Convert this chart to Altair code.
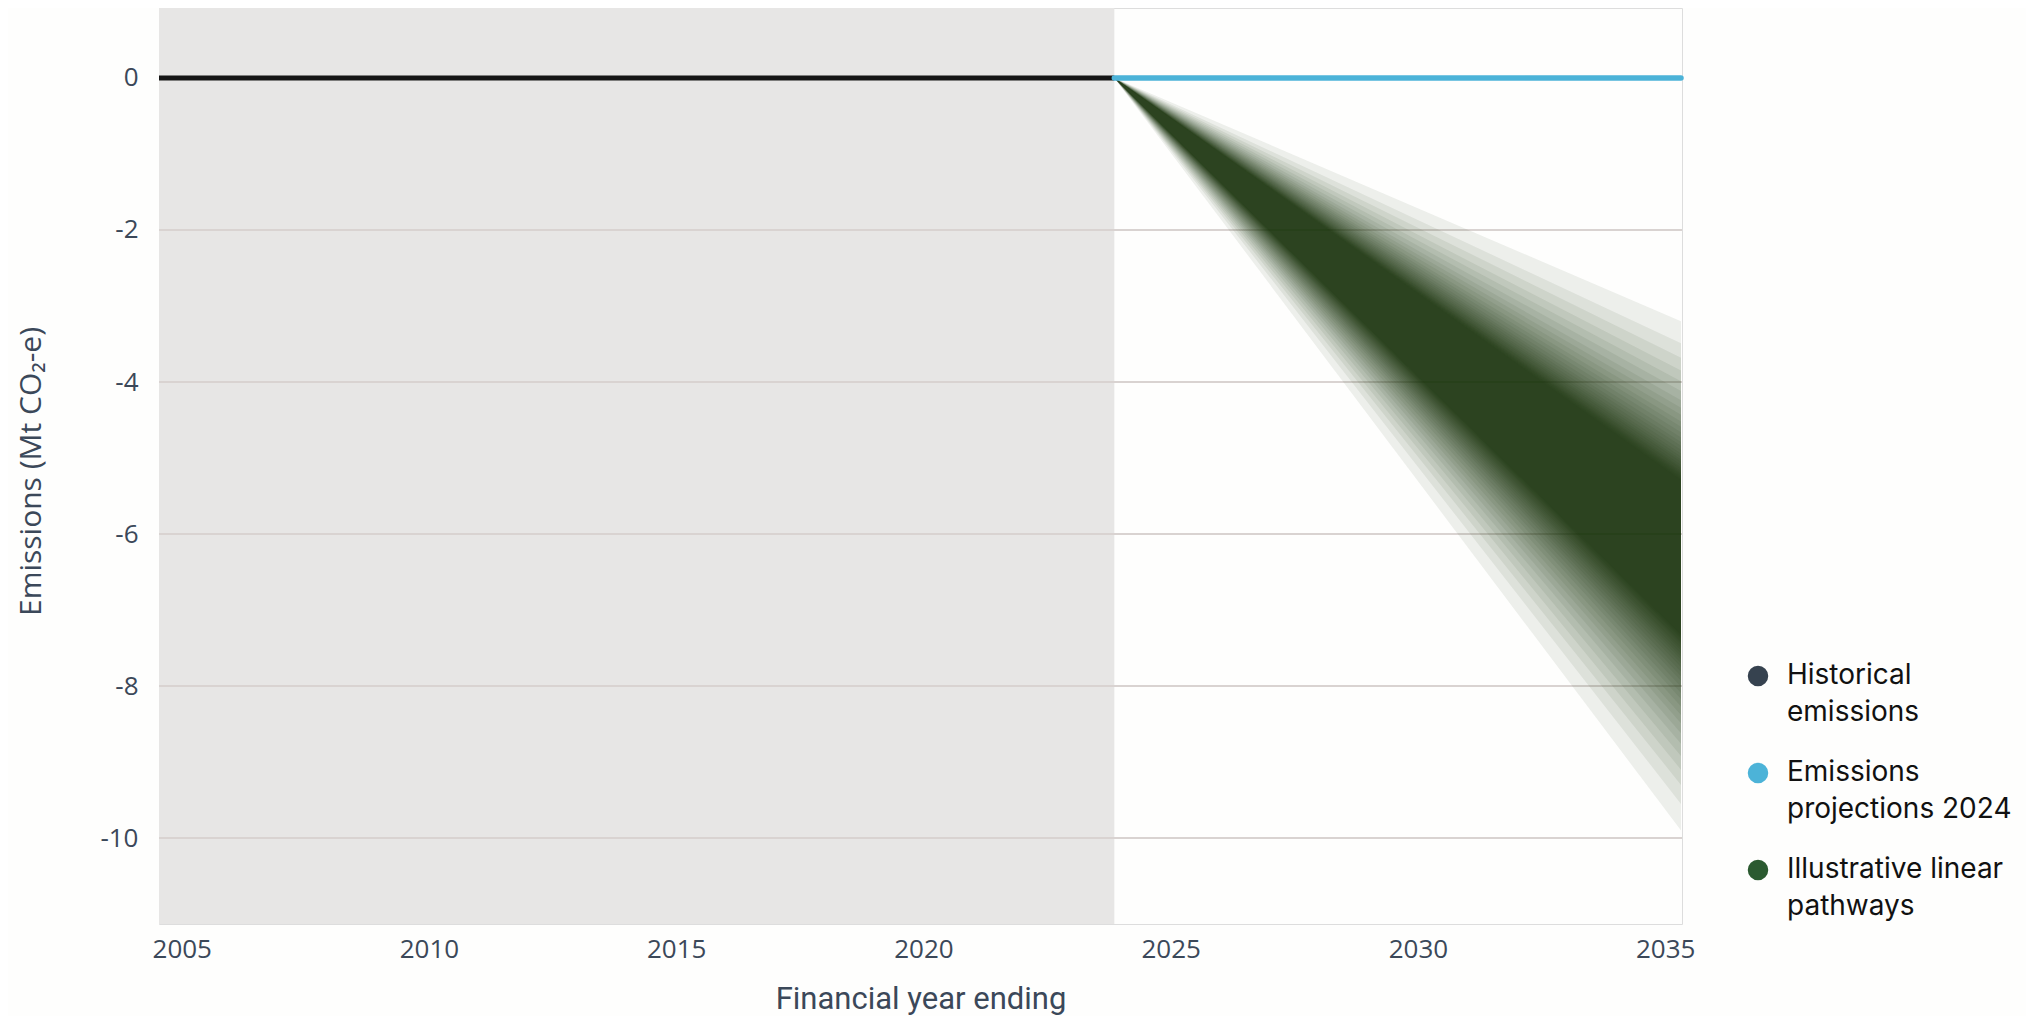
import altair as alt
import pandas as pd

# ---------------- data ----------------
hist_x = [2004.54, 2023.86]
hist_y = [0.0, 0.0]

proj_x = [2023.86, 2035.32]
proj_y = [0.0, 0.0]

# shaded historical period
shade_x = [2004.54]
shade_x2 = [2023.86]

# illustrative linear pathways: common start point and end-point envelopes (upper / lower)
path_start_x = 2023.86
path_start_y = 0.0
path_end_x = 2035.32
path_upper = [-3.20, -3.49, -3.68, -3.85, -3.99, -4.12, -4.24, -4.34, -4.43, -4.52,
              -4.59, -4.66, -4.73, -4.79, -4.84, -4.89, -4.94, -4.98, -5.02, -5.05,
              -5.09, -5.12, -5.14, -5.17, -5.19, -5.21, -5.23, -5.25, -5.27, -5.29]
path_lower = [-9.90, -9.55, -9.30, -9.10, -8.92, -8.76, -8.62, -8.49, -8.38, -8.27,
              -8.17, -8.09, -8.01, -7.93, -7.87, -7.81, -7.75, -7.70, -7.65, -7.61,
              -7.57, -7.53, -7.50, -7.46, -7.43, -7.41, -7.38, -7.36, -7.34, -7.32]

x_ticks = [2005, 2010, 2015, 2020, 2025, 2030, 2035]
y_ticks = [0, -2, -4, -6, -8, -10]
y_grid = [-2, -4, -6, -8, -10]
x_domain = [2004.54, 2035.34]
y_domain = [-11.13, 0.92]

series = ["Historical emissions", "Emissions projections 2024", "Illustrative linear pathways"]
series_line1 = ["Historical", "Emissions", "Illustrative linear"]
series_line2 = ["emissions", "projections 2024", "pathways"]
series_colors = ["#36424f", "#4cb3d8", "#2b5a30"]

# ---------------- tables ----------------
hist_df = pd.DataFrame({"x": hist_x, "y": hist_y})
proj_df = pd.DataFrame({"x": proj_x, "y": proj_y})
shade_df = pd.DataFrame({"x": shade_x, "x2": shade_x2})
grid_df = pd.DataFrame({"y": y_grid})
rows = []
for i, (u, l) in enumerate(zip(path_upper, path_lower)):
    rows.append({"band": i, "x": path_start_x, "y": path_start_y, "y2": path_start_y})
    rows.append({"band": i, "x": path_end_x, "y": u, "y2": l})
fan_df = pd.DataFrame(rows)
legend_df = pd.DataFrame({"series": series})

W, H = 1523, 916

xscale = alt.Scale(domain=x_domain, nice=False, zero=False)
yscale = alt.Scale(domain=y_domain, nice=False, zero=False)

label_color = "#3b4859"
xaxis = alt.Axis(values=x_ticks, format="d", title="Financial year ending", grid=False,
                 domain=False, ticks=False, labelFont="Open Sans", labelFontSize=26,
                 labelColor=label_color, labelPadding=12, titleFont="Roboto", titleFontSize=31,
                 titleFontWeight="normal", titleColor=label_color, titleY=84,
                 titleBaseline="alphabetic")
yaxis = alt.Axis(values=y_ticks, labelExpr="'' + datum.value", title="Emissions (Mt CO₂-e)",
                 grid=False, domain=False, ticks=False, labelFont="Open Sans", labelFontSize=26,
                 labelColor=label_color, labelPadding=21, titleFont="Open Sans", titleFontSize=30,
                 titleFontWeight="normal", titleColor=label_color, titleX=-113, titleY=463,
                 titleAngle=-90, titleBaseline="bottom", titleAlign="center")

shade = alt.Chart(shade_df).mark_rect(color="#e7e6e5").encode(
    x=alt.X("x:Q", scale=xscale, axis=xaxis),
    x2="x2:Q",
    y=alt.value(0),
    y2=alt.value(H),
)

grid = alt.Chart(grid_df).mark_rule(color="#d9d3d1", strokeWidth=2).encode(
    y=alt.Y("y:Q", scale=yscale, axis=yaxis),
    x=alt.value(0),
    x2=alt.value(W),
)

fan = alt.Chart(fan_df).mark_area(color="#1a380f", opacity=0.075, strokeWidth=0).encode(
    x=alt.X("x:Q", scale=xscale),
    y=alt.Y("y:Q", scale=yscale),
    y2="y2:Q",
    detail="band:N",
)

hist = alt.Chart(hist_df).mark_line(color="#151515", strokeWidth=5).encode(
    x=alt.X("x:Q", scale=xscale),
    y=alt.Y("y:Q", scale=yscale),
)

proj = alt.Chart(proj_df).mark_line(color="#4cb3d8", strokeWidth=5.5, strokeCap="round").encode(
    x=alt.X("x:Q", scale=xscale),
    y=alt.Y("y:Q", scale=yscale),
)

label_map = "{" + ", ".join(
    f"'{s}': ['{a}', '{b}']" for s, a, b in zip(series, series_line1, series_line2)
) + "}"

legend_pts = alt.Chart(legend_df).mark_point(filled=True, opacity=0, shape="circle").encode(
    x=alt.value(0),
    y=alt.value(0),
    color=alt.Color("series:N", scale=alt.Scale(domain=series, range=series_colors),
                    legend=alt.Legend(title=None, orient="none", legendX=1585, legendY=654,
                                      symbolType="circle", symbolSize=420, symbolOpacity=1,
                                      symbolStrokeWidth=0, labelFont="Inter", labelFontSize=28,
                                      labelColor="#111111", labelLimit=400, labelOffset=15,
                                      labelBaseline="middle", rowPadding=32, padding=0,
                                      labelExpr=f"{label_map}[datum.label]")),
)

chart = alt.layer(shade, grid, fan, hist, proj, legend_pts).properties(
    width=W, height=H,
    padding={"left": 151, "top": 0, "right": 344, "bottom": 92},
    autosize=alt.AutoSizeParams(type="none"),
).configure_view(stroke=None).configure(
    background="#fefefd",
    style={"guide-label": {"lineHeight": 37}},
)

chart.save("out.html", embed_options={"renderer": "svg", "actions": False})
